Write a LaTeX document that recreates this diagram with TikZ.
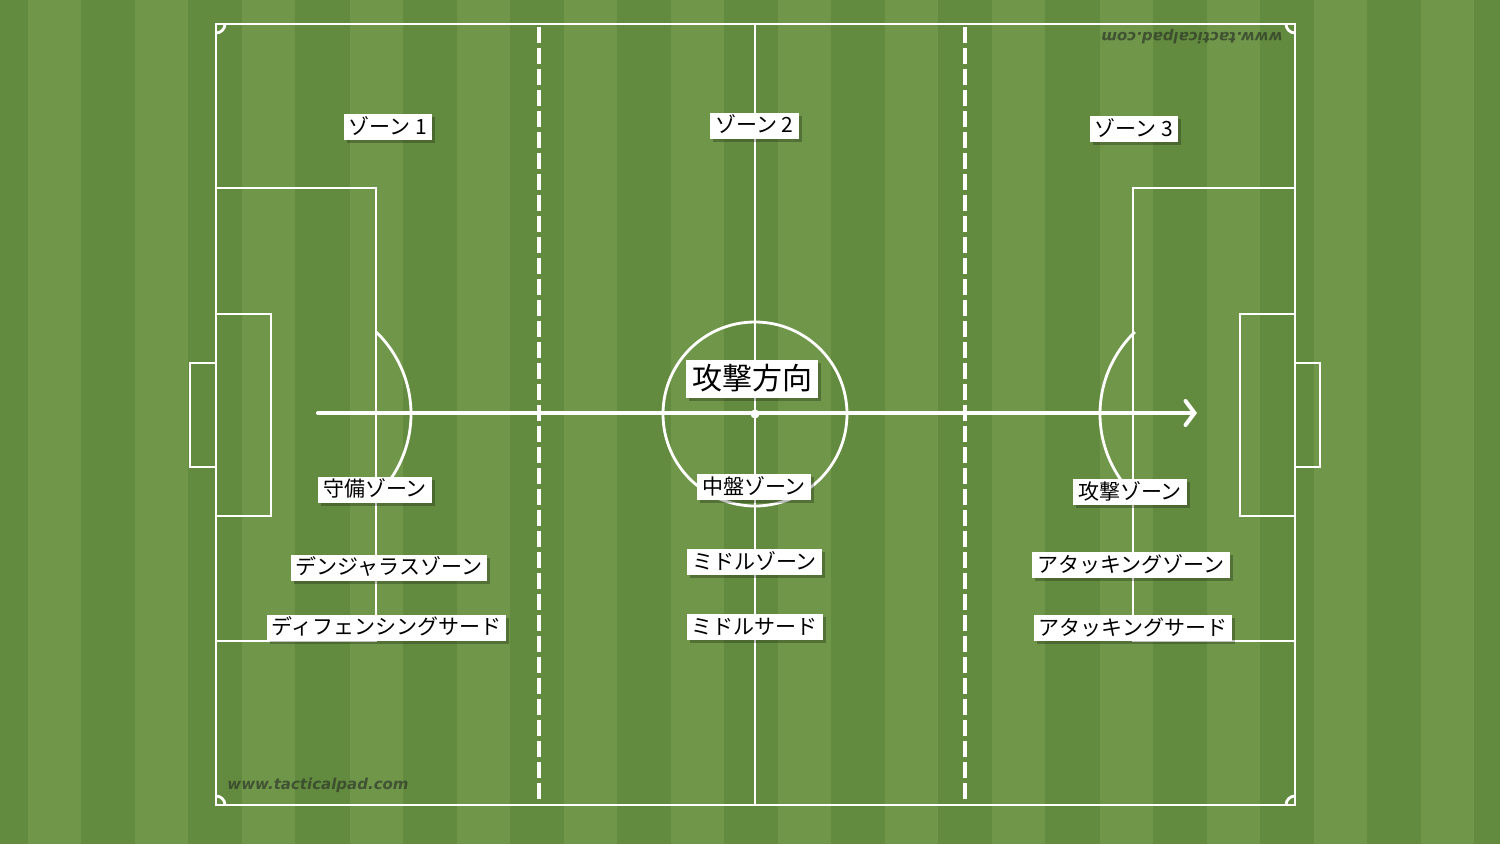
\documentclass[tikz,border=0pt]{standalone}
\usepackage{fontspec}
\newfontfamily\jpfont{Noto Sans CJK JP}
\newfontfamily\wmfont{DejaVu Sans}
\usetikzlibrary{arrows.meta}
\usetikzlibrary{shadows}
\definecolor{grassdark}{RGB}{99,139,63}
\definecolor{grasslight}{RGB}{112,150,74}
\definecolor{wmgray}{RGB}{45,55,40}

\begin{document}
\begin{tikzpicture}[x=1pt,y=-1pt,
  pitchline/.style={white,line width=2.8pt},
  zoneline/.style={white,line width=4.5pt,dash pattern=on 16pt off 5pt},
  zone/.style={fill=white,text=black,inner xsep=5pt,inner ysep=3pt,
    font=\jpfont\fontsize{21}{24}\selectfont,text height=17pt,text depth=3pt,
    drop shadow={shadow xshift=3pt,shadow yshift=-3pt,opacity=.25,fill=black}},
  bigzone/.style={zone,inner xsep=6pt,inner ysep=4pt,
    font=\jpfont\fontsize{30}{34}\selectfont,text height=25.5pt,text depth=4.5pt},
  wmark/.style={text=wmgray,opacity=.7,font=\wmfont\bfseries\itshape\fontsize{15}{15}\selectfont}]
\useasboundingbox (0,0) rectangle (1500,844);
\fill[grassdark] (0,0) rectangle (1500,844);
\fill[grasslight] (28,0) rectangle (81,844);
\fill[grasslight] (135,0) rectangle (188,844);
\fill[grasslight] (242,0) rectangle (295,844);
\fill[grasslight] (350,0) rectangle (403,844);
\fill[grasslight] (457,0) rectangle (510,844);
\fill[grasslight] (564,0) rectangle (617,844);
\fill[grasslight] (671,0) rectangle (724,844);
\fill[grasslight] (778,0) rectangle (831,844);
\fill[grasslight] (885,0) rectangle (938,844);
\fill[grasslight] (992,0) rectangle (1045,844);
\fill[grasslight] (1100,0) rectangle (1153,844);
\fill[grasslight] (1207,0) rectangle (1260,844);
\fill[grasslight] (1314,0) rectangle (1367,844);
\fill[grasslight] (1421,0) rectangle (1474,844);

% pitch
\draw[pitchline] (216,24) rectangle (1295,805);
\draw[pitchline] (755,24) -- (755,805);
\draw[pitchline] (755,414) circle[radius=92];
\fill[white] (755,414) circle[radius=4.5];
\draw[pitchline] (216,188) rectangle (376,641);
\draw[pitchline] (216,314) rectangle (271,516);
\draw[pitchline] (190,363) rectangle (216,467);
\draw[pitchline] (1133,188) rectangle (1295,641);
\draw[pitchline] (1240,314) rectangle (1295,516);
\draw[pitchline] (1295,363) rectangle (1320,467);
\draw[pitchline] (297,414) ++(-46:114) arc[start angle=-46,end angle=46,radius=114];
\draw[pitchline] (1214,414) ++(134:114) arc[start angle=134,end angle=226,radius=114];
\draw[pitchline] (216,24) ++(0:9) arc[start angle=0,end angle=90,radius=9];
\draw[pitchline] (1295,24) ++(90:9) arc[start angle=90,end angle=180,radius=9];
\draw[pitchline] (1295,805) ++(180:9) arc[start angle=180,end angle=270,radius=9];
\draw[pitchline] (216,805) ++(270:9) arc[start angle=270,end angle=360,radius=9];

\draw[zoneline] (539,27) -- (539,802);
\draw[zoneline] (965,27) -- (965,802);

\node[wmark] (wm1) at (318,785) {www.tacticalpad.com};
\node[wmark,rotate=180] (wm2) at (1192,37) {www.tacticalpad.com};

% direction of attack
\coordinate (kickoff) at (318,413);
\coordinate (target) at (1197,413);
\draw[white,line width=4pt,line cap=round,-{Straight Barb[length=9pt,width=24pt,line cap=round]}] (kickoff) -- (target);

\node[zone] (z1) at (388,127) {ゾーン 1};
\node[zone] (z2) at (754.5,125.5) {ゾーン 2};
\node[zone] (z3) at (1134,129) {ゾーン 3};
\node[bigzone] (dir) at (752,379) {攻撃方向};

\node[zone] (def) at (375,489.5) {守備ゾーン};
\node[zone] (mid) at (754,487) {中盤ゾーン};
\node[zone] (att) at (1130,492) {攻撃ゾーン};

\node[zone] (danger) at (389,567.5) {デンジャラスゾーン};
\node[zone] (midzone) at (754.5,562) {ミドルゾーン};
\node[zone] (attzone) at (1131,565) {アタッキングゾーン};

\node[zone] (defthird) at (386.5,627.5) {ディフェンシングサード};
\node[zone] (midthird) at (754.5,627) {ミドルサード};
\node[zone] (attthird) at (1133,628) {アタッキングサード};
\end{tikzpicture}
\end{document}
